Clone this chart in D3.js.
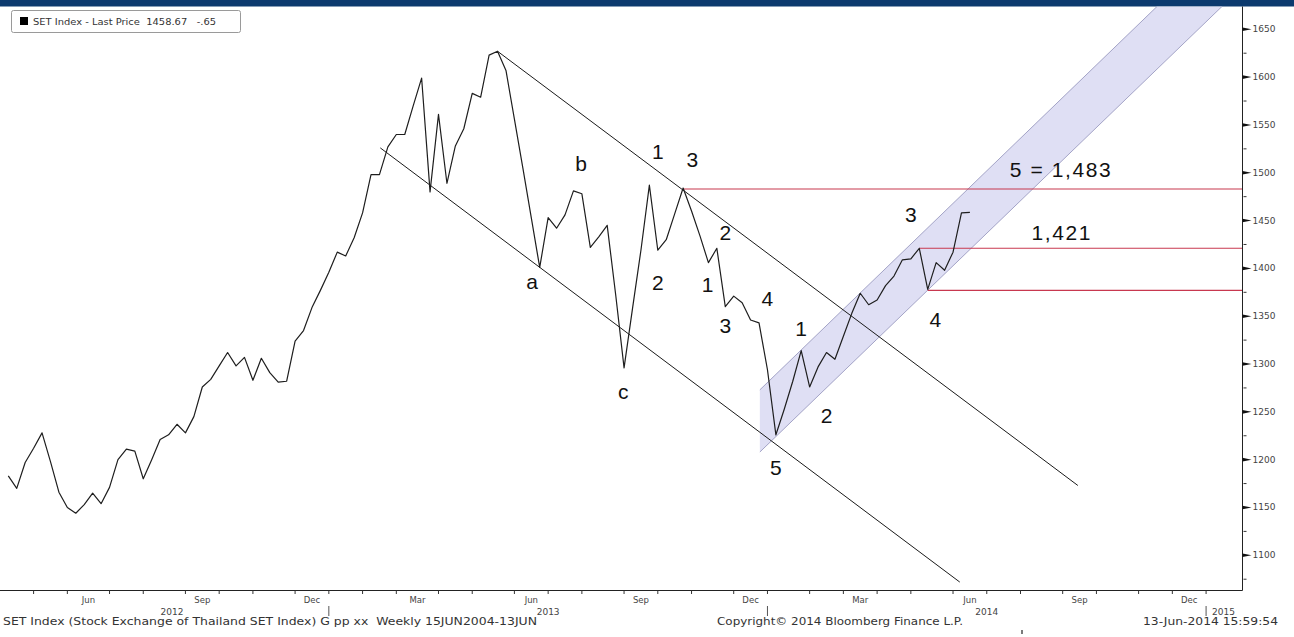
<!DOCTYPE html>
<html><head><meta charset="utf-8">
<script src="https://cdn.jsdelivr.net/npm/d3@7"></script>
<style>body{margin:0;background:#fff}svg{display:block}</style>
</head><body>
<svg id="c" width="1294" height="637"></svg>
<script>
// ---------- data ----------
const firstWeek = "2012-04-06";          // weekly closes, Fridays
const prices = [1183,1170,1197,1212,1228,1198,1166,1150,1144,1153,
1165,1154,1171,1200,1211,1209,1180,1200,1221,1226,
1237,1228,1245,1276,1284,1298,1312,1298,1307,1283,
1306,1291,1281,1282,1324,1335,1359,1377,1396,1417,
1413,1432,1458,1498,1498,1527,1540,1540,1570,1599,
1480,1561,1489,1528,1546,1583,1579,1623,1627,1607,
1556,1505,1453,1401,1453,1442,1456,1481,1478,1422,
1433,1445,1373,1296,1358,1419,1487,1419,1430,1457,
1484,1460,1434,1406,1421,1360,1371,1364,1346,1343,
1294,1226,1253,1282,1314,1276,1297,1312,1305,1329,
1353,1374,1362,1367,1382,1392,1409,1410,1421,1378,
1406,1398,1417,1458,1458.67];
const yTicks = [1100,1150,1200,1250,1300,1350,1400,1450,1500,1550,1600,1650];
const yMinor = [1075,1125,1175,1225,1275,1325,1375,1425,1475,1525,1575,1625];
const quarterMonths = ["Mar","Jun","Sep","Dec"];
const years = [2012,2013,2014,2015];
// trend lines in [week index, value]
const channelUpper = [[58,1627],[126.8,1173]];
const channelLower = [[44.1,1526],[112.8,1072]];
const bandUpper = [[89.1,1273],[136.2,1674]];
const bandLower = [[89.1,1208],[143.9,1674]];
const levels = [[80,1483],[108,1421],[109,1377]];
const waveLabels = [
  ["a",62.1,1386],["b",67.9,1510],["c",72.9,1271],
  ["1",77.0,1522],["3",81.1,1514],["2",85.0,1438],["2",77.0,1385],
  ["1",82.9,1383],["3",85.0,1340],["4",90.0,1368],["5",91.0,1192],
  ["1",94.0,1337],["2",97.0,1246],["3",107.0,1456],["4",109.9,1347],
  ["5 = 1,483",124.8,1503],["1,421",124.9,1438]
];
const legendText = "SET Index - Last Price  1458.67   -.65";
const footLeft = "SET Index (Stock Exchange of Thailand SET Index) G pp xx  Weekly 15JUN2004-13JUN";
const footMid = "Copyright\u00A9 2014 Bloomberg Finance L.P.";
const footRight = "13-Jun-2014 15:59:54";

// ---------- layout ----------
const W = 1294, H = 637;
const plotTop = 6.5, plotBottom = 590.5, plotRight = 1242.5;
const x = d3.scaleLinear().domain([0, prices.length - 1]).range([8.3, 969.9]);
const y = d3.scaleLinear().domain([1100, 1650]).range([555.3, 29.3]);
const DAY = 864e5;
const t0 = new Date(firstWeek + "T00:00:00Z").getTime();
const svg = d3.select("#c");

svg.append("rect").attr("width", W).attr("height", H).attr("fill", "#fff");
svg.append("rect").attr("x", 0).attr("y", 0).attr("width", W).attr("height", 6.5).attr("fill", "#0c3a6e");

const defs = svg.append("defs");
defs.append("clipPath").attr("id", "plot").append("rect")
  .attr("x", 0).attr("y", plotTop).attr("width", plotRight).attr("height", plotBottom - plotTop);
const g = svg.append("g").attr("clip-path", "url(#plot)");

// band
const bandPoly = bandUpper.concat(bandLower.slice().reverse());
g.append("path")
  .attr("d", d3.line().x(d => x(d[0])).y(d => y(d[1]))(bandPoly) + "Z")
  .attr("fill", "#dcdcf3").attr("fill-opacity", 0.9);
[bandUpper, bandLower].forEach(l => {
  g.append("path").attr("d", d3.line().x(d => x(d[0])).y(d => y(d[1]))(l))
    .attr("fill", "none").attr("stroke", "#a3a3c6").attr("stroke-width", 1);
});

// red levels
const xEnd = x.invert(plotRight);
levels.forEach(l => {
  g.append("line").attr("x1", x(l[0])).attr("x2", x(xEnd))
    .attr("y1", y(l[1])).attr("y2", y(l[1]))
    .attr("stroke", "#c8384f").attr("stroke-width", 1.1);
});

// channel lines
[channelUpper, channelLower].forEach(l => {
  g.append("path").attr("d", d3.line().x(d => x(d[0])).y(d => y(d[1]))(l))
    .attr("fill", "none").attr("stroke", "#1a1a1a").attr("stroke-width", 1);
});

// price line
g.append("path").datum(prices)
  .attr("d", d3.line().x((d, i) => x(i)).y(d => y(d)))
  .attr("fill", "none").attr("stroke", "#1e1e1e").attr("stroke-width", 1.2)
  .attr("stroke-linejoin", "round");

// wave labels
svg.append("g").selectAll("text").data(waveLabels).join("text")
  .attr("x", d => x(d[1])).attr("y", d => y(d[2]))
  .attr("text-anchor", "middle").attr("dominant-baseline", "central")
  .attr("font-family", "Liberation Sans, Arial, sans-serif").attr("font-size", 21)
  .attr("letter-spacing", d => d[0].length > 1 ? 1.6 : 0)
  .attr("fill", "#111").text(d => d[0]);

// right axis
svg.append("line").attr("x1", plotRight).attr("x2", plotRight).attr("y1", plotTop).attr("y2", plotBottom)
  .attr("stroke", "#222").attr("stroke-width", 1);
const ya = svg.append("g");
yTicks.forEach(v => {
  const yy = y(v);
  ya.append("path").attr("d", `M${plotRight},${yy - 1.8}L${plotRight + 9},${yy}L${plotRight},${yy + 1.8}Z`).attr("fill", "#111");
  ya.append("text").attr("x", plotRight + 10).attr("y", yy).attr("dominant-baseline", "central")
    .attr("font-family", "DejaVu Sans, Verdana, sans-serif").attr("font-size", 9).attr("fill", "#444").text(v);
});
yMinor.forEach(v => {
  ya.append("line").attr("x1", plotRight + 1).attr("x2", plotRight + 4).attr("y1", y(v)).attr("y2", y(v))
    .attr("stroke", "#333").attr("stroke-width", 1);
});

// bottom axis
svg.append("line").attr("x1", 0).attr("x2", plotRight).attr("y1", plotBottom).attr("y2", plotBottom)
  .attr("stroke", "#222").attr("stroke-width", 1);
function tickIndex(yr, m) {             // last weekly point before the month starts
  const days = (Date.UTC(yr, m, 1) - t0) / DAY;
  return Math.ceil(days / 7) - 1;
}
const xa = svg.append("g").attr("font-family", "DejaVu Sans, Verdana, sans-serif").attr("fill", "#444");
const monthNames = ["Jan","Feb","Mar","Apr","May","Jun","Jul","Aug","Sep","Oct","Nov","Dec"];
for (let yr = 2012; yr <= 2015; yr++) {
  for (let m = 0; m < 12; m++) {
    const ti = tickIndex(yr, m);
    if (ti < 0) continue;
    const tx = x(ti);
    if (tx > plotRight) continue;
    xa.append("line").attr("x1", tx).attr("x2", tx).attr("y1", plotBottom).attr("y2", plotBottom + 3.5)
      .attr("stroke", "#333").attr("stroke-width", 1);
    const name = monthNames[m];
    if (quarterMonths.includes(name)) {
      const nx = x(tickIndex(m === 11 ? yr + 1 : yr, (m + 1) % 12));
      xa.append("text").attr("x", (tx + nx) / 2).attr("y", 603).attr("text-anchor", "middle")
        .attr("font-size", 8.5).text(name);
    }
  }
}
const sepX = years.map(yr => x(tickIndex(yr, 0)));
years.forEach((yr, k) => {
  if (k > 0) {
    xa.append("line").attr("x1", sepX[k]).attr("x2", sepX[k]).attr("y1", 606).attr("y2", 616)
      .attr("stroke", "#555").attr("stroke-width", 1);
  }
  let cx;
  if (k === 0) cx = (15 + sepX[1]) / 2;
  else if (k < years.length - 1) cx = (sepX[k] + sepX[k + 1]) / 2;
  if (k < years.length - 1) {
    xa.append("text").attr("x", cx).attr("y", 615).attr("text-anchor", "middle").attr("font-size", 9).text(yr);
  } else {
    xa.append("text").attr("x", sepX[k] + 6).attr("y", 615).attr("font-size", 9).text(yr);
  }
});

// legend
svg.append("rect").attr("x", 11.5).attr("y", 10.5).attr("width", 229).attr("height", 22).attr("rx", 2)
  .attr("fill", "#fff").attr("stroke", "#9a9a9a");
svg.append("rect").attr("x", 20).attr("y", 17).attr("width", 8).attr("height", 8).attr("fill", "#000");
svg.append("text").attr("x", 33).attr("y", 25).attr("font-family", "DejaVu Sans, Verdana, sans-serif")
  .attr("font-size", 9).attr("fill", "#333").attr("xml:space", "preserve")
  .attr("textLength", 183).attr("lengthAdjust", "spacingAndGlyphs").text(legendText);

// footer
const foot = svg.append("g").attr("font-family", "DejaVu Sans, Verdana, sans-serif").attr("font-size", 10.5).attr("fill", "#333");
foot.append("text").attr("x", 3).attr("y", 625).attr("xml:space", "preserve")
  .attr("textLength", 534).attr("lengthAdjust", "spacingAndGlyphs").text(footLeft);
foot.append("text").attr("x", 717).attr("y", 625)
  .attr("textLength", 246).attr("lengthAdjust", "spacingAndGlyphs").text(footMid);
foot.append("text").attr("x", 1143).attr("y", 625)
  .attr("textLength", 135).attr("lengthAdjust", "spacingAndGlyphs").text(footRight);
svg.append("line").attr("x1", 1022).attr("x2", 1022).attr("y1", 630).attr("y2", 634)
  .attr("stroke", "#222").attr("stroke-width", 1.2);
</script>
</body></html>
